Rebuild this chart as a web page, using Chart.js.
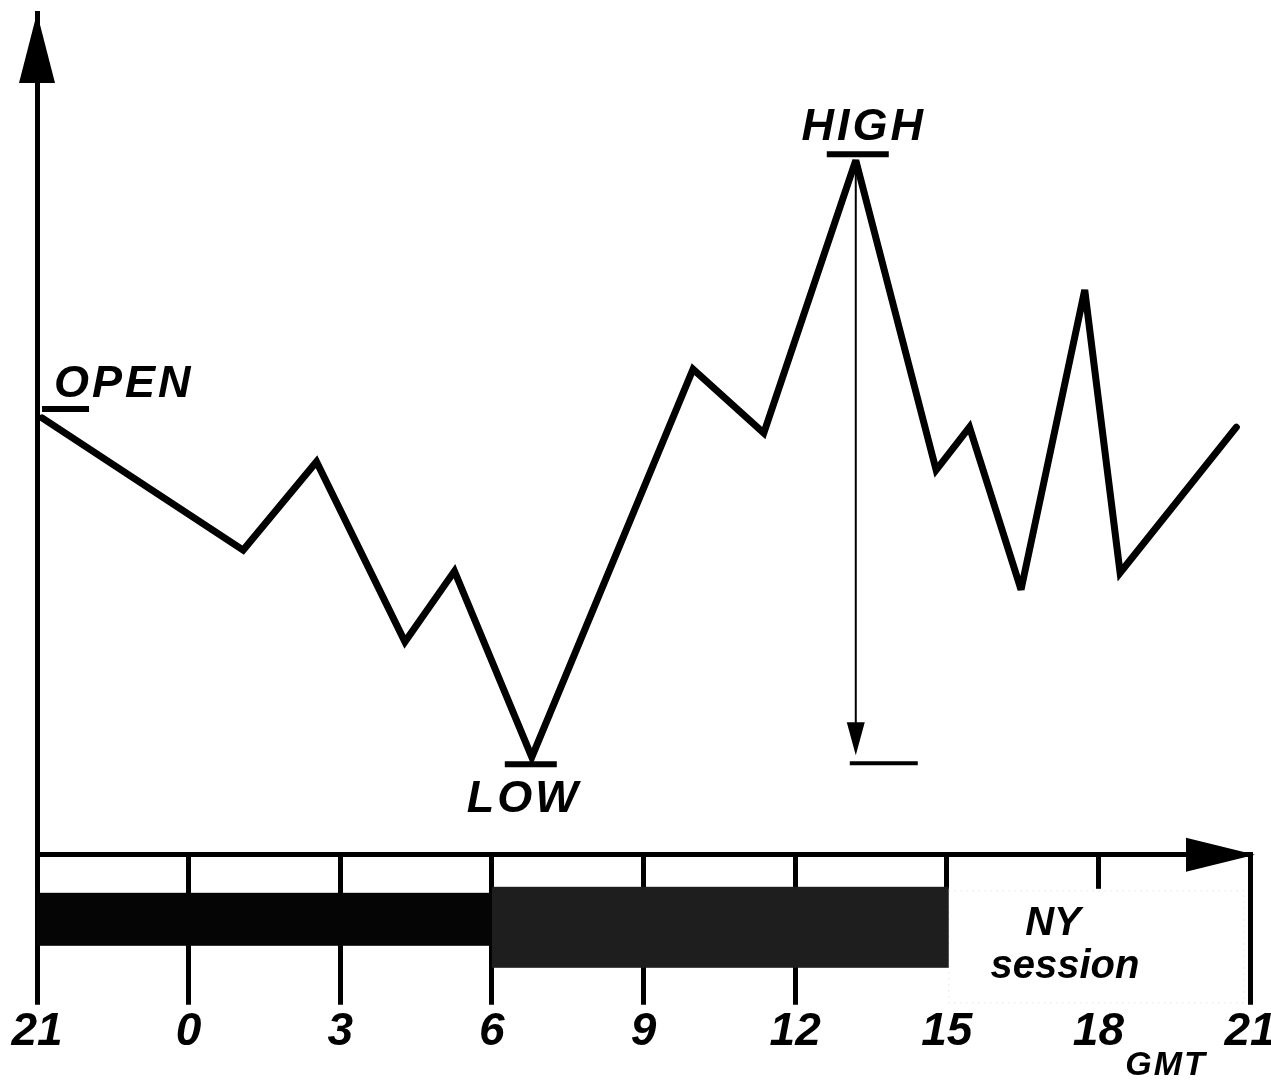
<!DOCTYPE html>
<html>
<head>
<meta charset="utf-8">
<script src="https://cdn.jsdelivr.net/npm/chart.js@4/dist/chart.umd.min.js"></script>
<style>
  html,body{margin:0;padding:0;background:#fff;}
  #wrap{width:1271px;height:1090px;}
</style>
</head>
<body>
<div id="wrap"><canvas id="chart"></canvas></div>
<script>
// hours after 21:00 GMT, and price level (arbitrary units)
const hours=[0.1,4.08,5.53,7.28,8.26,9.79,12.98,14.38,16.2,17.79,18.45,19.47,20.73,21.43,23.73];
const prices=[51.9,36.2,46.7,25.3,33.7,11.6,57.7,50.1,82.5,45.7,50.8,31.5,67.1,33.5,50.8];
const tickLabels=['21','0','3','6','9','12','15','18','21'];
// trading sessions, in hours after 21:00
const sessionStart=[0,9,18];
const sessionEnd=[9,18,24];
const sessionNames=['','','NY session'];

const FONT='"Liberation Sans", Arial, sans-serif';

const deco={
  id:'deco',
  beforeDatasetsDraw(chart){ chart.ctx.miterLimit=3; },
  afterDraw(chart){
    const {ctx, chartArea:a, scales:{x,y}}=chart;
    const px=h=>x.getPixelForValue(h);
    const py=v=>y.getPixelForValue(v);
    const b=a.bottom;
    ctx.save();

    // NY session box (white, covers tick marks)
    ctx.fillStyle='#fff';
    ctx.fillRect(px(sessionStart[2])-3, b+34, px(sessionEnd[2])-px(sessionStart[2])-1, 117);
    ctx.setLineDash([1,5]);
    ctx.strokeStyle='#d8d8d8'; ctx.lineWidth=1;
    ctx.strokeRect(px(sessionStart[2])+2, b+36, px(sessionEnd[2])-px(sessionStart[2])-8, 112);
    ctx.setLineDash([]);
    // asian session bar
    ctx.fillStyle='#050505';
    ctx.fillRect(px(sessionStart[0]), b+38, px(sessionEnd[0])-px(sessionStart[0]), 53);
    // european session bar
    ctx.fillStyle='#1e1e1e';
    ctx.fillRect(px(sessionStart[1]), b+32, px(sessionEnd[1])-px(sessionStart[1])+2, 81);
    // NY text
    ctx.fillStyle='#000';
    ctx.strokeStyle='#000';
    ctx.textAlign='center';
    ctx.font='italic bold 40px '+FONT;
    const nyX=px(20.3);
    const parts=sessionNames[2].split(' ');
    ctx.fillText(parts[0], nyX-10, b+80);
    ctx.fillText(parts[1], nyX+2, b+123);

    // axis arrows
    ctx.beginPath();
    ctx.moveTo(a.left, a.top);
    ctx.lineTo(a.left-18, a.top+70);
    ctx.lineTo(a.left+18, a.top+70);
    ctx.closePath(); ctx.fill();
    ctx.beginPath();
    ctx.moveTo(a.right+5, b);
    ctx.lineTo(a.right-64, b-17);
    ctx.lineTo(a.right-64, b+17);
    ctx.closePath(); ctx.fill();

    // GMT
    ctx.font='italic bold 34px '+FONT;
    ctx.letterSpacing='2px';
    ctx.fillText('GMT', a.right-84, b+220);
    ctx.letterSpacing='0px';

    // open / high / low markers
    const iHigh=prices.indexOf(Math.max(...prices));
    const iLow=prices.indexOf(Math.min(...prices));
    const xo=px(hours[0]), yo=py(prices[0]);
    const xh=px(hours[iHigh]), yh=py(prices[iHigh]);
    const xl=px(hours[iLow]), yl=py(prices[iLow]);
    ctx.lineWidth=6; ctx.lineCap='butt';
    ctx.beginPath();
    ctx.moveTo(xo, yo-9); ctx.lineTo(xo+47, yo-9);
    ctx.moveTo(xh-29, yh-6); ctx.lineTo(xh+33, yh-6);
    ctx.moveTo(xl-27, yl+7); ctx.lineTo(xl+25, yl+7);
    ctx.stroke();

    ctx.font='italic bold 45px '+FONT;
    ctx.letterSpacing='3px';
    ctx.textAlign='left';
    ctx.fillText('OPEN', xo+12, yo-21);
    ctx.textAlign='center';
    ctx.fillText('HIGH', xh+8, yh-20);
    ctx.fillText('LOW', xl-8, yl+55);
    ctx.letterSpacing='0px';

    // high-low range arrow
    ctx.lineWidth=2;
    ctx.beginPath();
    ctx.moveTo(xh, yh+5); ctx.lineTo(xh, yl-30);
    ctx.stroke();
    ctx.beginPath();
    ctx.moveTo(xh, yl-2);
    ctx.lineTo(xh-9, yl-35);
    ctx.lineTo(xh+9, yl-35);
    ctx.closePath(); ctx.fill();
    ctx.lineWidth=4;
    ctx.beginPath();
    ctx.moveTo(xh-6, yl+6); ctx.lineTo(xh+62, yl+6);
    ctx.stroke();

    ctx.restore();
  }
};

new Chart(document.getElementById('chart'),{
  type:'line',
  data:{
    datasets:[{
      data:hours.map((h,i)=>({x:h,y:prices[i]})),
      borderColor:'#000',
      borderWidth:7,
      borderJoinStyle:'miter',
      borderCapStyle:'round',
      pointRadius:0,
      tension:0,
      fill:false
    }]
  },
  options:{
    responsive:true,
    maintainAspectRatio:false,
    animation:false,
    layout:{padding:{left:37,right:21,top:13,bottom:30}},
    plugins:{legend:{display:false},tooltip:{enabled:false}},
    scales:{
      x:{
        type:'linear',
        min:0,max:24,
        afterFit(s){ s.paddingLeft=0; s.paddingRight=0; },
        afterBuildTicks(s){ s.ticks=tickLabels.map((t,i)=>({value:i*3})); },
        ticks:{
          autoSkip:false,
          maxRotation:0,
          padding:0,
          color:'#000',
          font:{family:FONT,size:46,style:'italic',weight:'bold'},
          callback:(v,i)=>tickLabels[i]
        },
        grid:{display:true,drawOnChartArea:false,drawTicks:true,tickLength:150,lineWidth:5,color:'#000'},
        border:{display:true,color:'#000',width:5}
      },
      y:{
        min:0,max:100,
        ticks:{display:false},
        grid:{display:false,drawTicks:false},
        border:{display:true,color:'#000',width:5}
      }
    }
  },
  plugins:[deco]
});
</script>
</body>
</html>
